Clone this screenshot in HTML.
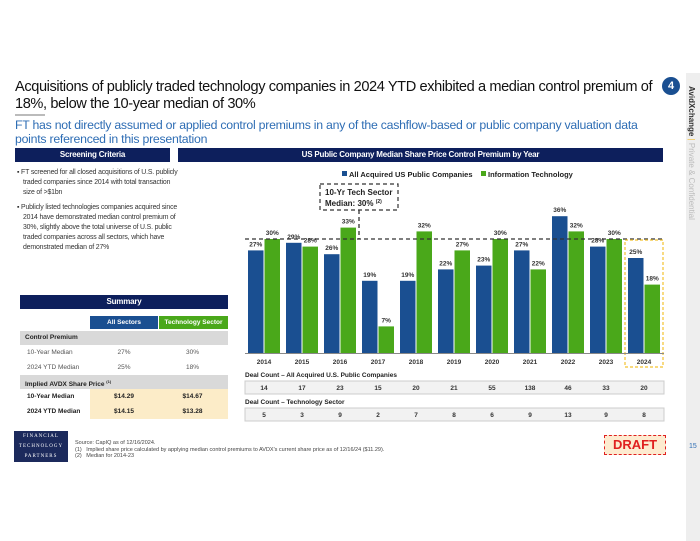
<!DOCTYPE html>
<html><head><meta charset="utf-8"><style>
*{margin:0;padding:0;box-sizing:border-box}
body{width:700px;height:541px;background:#fff;position:relative;overflow:hidden;font-family:"Liberation Sans",Arial,sans-serif;color:#222}
.abs{position:absolute}
.hdr{background:#0d1f5c;color:#fff;font-weight:bold;font-size:8px;text-align:center;line-height:14px;letter-spacing:-0.2px}
</style></head><body>
<div class="abs" style="left:15px;top:79px;white-space:nowrap;font-size:14.6px;line-height:17px;color:#111;letter-spacing:-0.4px">Acquisitions of publicly traded technology companies in 2024 YTD exhibited a median control premium of<br>18%, below the 10-year median of 30%</div>
<div class="abs" style="left:15px;top:114px;width:30px;height:2px;background:#bbb"></div>
<div class="abs" style="left:662px;top:77px;width:18px;height:18px;border-radius:50%;background:#1a4f91;color:#fff;font-weight:bold;font-size:11px;text-align:center;line-height:18px">4</div>
<div class="abs" style="left:686px;top:73px;width:14px;height:468px;background:#eee"></div>
<div class="abs" style="left:687px;top:86px;writing-mode:vertical-rl;font-size:8px;color:#bbb"><b style="color:#333">AvidXchange</b> <span style="color:#f0c040">|</span> Private &amp; Confidential</div>
<div class="abs" style="left:15px;top:118px;white-space:nowrap;font-size:12.3px;line-height:14px;color:#2e6db4;letter-spacing:-0.25px">FT has not directly assumed or applied control premiums in any of the cashflow-based or public company valuation data<br>points referenced in this presentation</div>
<div class="abs hdr" style="left:15px;top:148px;width:155px">Screening Criteria</div>
<div class="abs hdr" style="left:178px;top:148px;width:485px">US Public Company Median Share Price Control Premium by Year</div>
<div class="abs" style="left:15px;top:168px;white-space:nowrap;font-size:6.9px;line-height:10px;color:#333;letter-spacing:-0.15px">
<div style="padding-left:8px;text-indent:-6px">▪ FT screened for all closed acquisitions of U.S. publicly<br>traded companies since 2014 with total transaction<br>size of &gt;$1bn</div>
<div style="padding-left:8px;text-indent:-6px;margin-top:5px">▪ Publicly listed technologies companies acquired since<br>2014 have demonstrated median control premium of<br>30%, slightly above the total universe of U.S. public<br>traded companies across all sectors, which have<br>demonstrated median of 27%</div></div>
<div class="abs hdr" style="left:20px;top:295px;width:208px">Summary</div>
<div class="abs" style="left:20px;top:316px;width:208px;font-size:6.5px">
<div style="position:relative;height:14px"><div class="abs" style="left:70px;width:68px;height:13px;background:#1a4f91;color:#fff;font-weight:bold;text-align:center;line-height:13px">All Sectors</div><div class="abs" style="left:139px;width:69px;height:13px;background:#4aa81a;color:#fff;font-weight:bold;text-align:center;line-height:13px">Technology Sector</div></div>
<div style="background:#d9d9d9;height:14px;line-height:14px;padding-left:5px;font-weight:bold;margin-top:1px">Control Premium</div>
<div style="display:flex;height:15px;line-height:15px;color:#555"><span style="width:70px;padding-left:7px">10-Year Median</span><span style="width:68px;text-align:center">27%</span><span style="width:69px;text-align:center">30%</span></div>
<div style="display:flex;height:15px;line-height:15px;color:#555"><span style="width:70px;padding-left:7px">2024 YTD Median</span><span style="width:68px;text-align:center">25%</span><span style="width:69px;text-align:center">18%</span></div>
<div style="background:#d9d9d9;height:14px;line-height:14px;padding-left:5px;font-weight:bold">Implied AVDX Share Price <sup style="font-size:4px">(1)</sup></div>
<div style="display:flex;height:15px;line-height:15px;font-weight:bold"><span style="width:70px;padding-left:7px">10-Year Median</span><span style="width:138px;display:flex;background:#fcecc8"><span style="width:68px;text-align:center">$14.29</span><span style="width:69px;text-align:center">$14.67</span></span></div>
<div style="display:flex;height:15px;line-height:15px;font-weight:bold"><span style="width:70px;padding-left:7px">2024 YTD Median</span><span style="width:138px;display:flex;background:#fcecc8"><span style="width:68px;text-align:center">$14.15</span><span style="width:69px;text-align:center">$13.28</span></span></div>
</div>
<svg class="abs" style="left:0;top:0" width="700" height="541">
<g id="bars"></g>
<line x1="245" y1="239" x2="664" y2="239" stroke="#333" stroke-width="1.3" stroke-dasharray="4,3"/>
<line x1="359" y1="210" x2="359" y2="239" stroke="#333" stroke-width="1.3" stroke-dasharray="4,3"/>
<rect x="320" y="184" width="78" height="26" fill="#fff" stroke="#333" stroke-width="1.2" stroke-dasharray="4,3"/>
<text x="325" y="195" font-size="8" font-weight="bold" fill="#222">10-Yr Tech Sector</text>
<text x="325" y="206" font-size="8" font-weight="bold" fill="#222">Median: 30% <tspan font-size="5" dy="-3">(2)</tspan></text>
<rect x="625" y="240" width="38" height="127" fill="none" stroke="#f2c230" stroke-width="1.2" stroke-dasharray="3,2"/>
<rect x="342" y="171" width="5" height="5" fill="#1a4f91"/><text x="349" y="177" font-size="7.5" font-weight="bold" fill="#222">All Acquired US Public Companies</text>
<rect x="481" y="171" width="5" height="5" fill="#4aa81a"/><text x="488" y="177" font-size="7.5" font-weight="bold" fill="#222">Information Technology</text>
<line x1="245" y1="353.5" x2="664" y2="353.5" stroke="#888" stroke-width="1"/>
<g id="xlabels"></g>
<text x="245" y="377" font-size="6.5" font-weight="bold" fill="#222">Deal Count – All Acquired U.S. Public Companies</text>
<rect x="245" y="381" width="419" height="13" fill="#f2f2f2" stroke="#ccc"/>
<text x="245" y="404" font-size="6.5" font-weight="bold" fill="#222">Deal Count – Technology Sector</text>
<rect x="245" y="408" width="419" height="13" fill="#f2f2f2" stroke="#ccc"/>
<g id="counts"></g>
</svg>
<div class="abs" style="left:14px;top:431px;width:54px;height:31px;background:#1c2a5c;color:#fff;font-family:'Liberation Serif',serif;font-size:5px;letter-spacing:1px;text-align:center;line-height:10px;padding-top:1px">FINANCIAL<br>TECHNOLOGY<br>PARTNERS</div>
<div class="abs" style="left:75px;top:440px;font-size:5.5px;line-height:6.5px;color:#444">Source: CapIQ as of 12/16/2024.<br>(1)&nbsp;&nbsp; Implied share price calculated by applying median control premiums to AVDX's current share price as of 12/16/24 ($11.29).<br>(2)&nbsp;&nbsp; Median for 2014-23</div>
<div class="abs" style="left:604px;top:435px;width:62px;height:20px;background:#fdebd0;border:1px dashed #e02020;color:#e02020;font-weight:bold;font-size:13px;text-align:center;line-height:18px">DRAFT</div>
<div class="abs" style="left:689px;top:443px;font-size:7px;color:#2e6db4">15</div>
<script>
const years=["2014","2015","2016","2017","2018","2019","2020","2021","2022","2023","2024"];
const allVals=[27,29,26,19,19,22,23,27,36,28,25];
const techVals=[30,28,33,7,32,27,30,22,32,30,18];
const allCounts=[14,17,23,15,20,21,55,138,46,33,20];
const techCounts=[5,3,9,2,7,8,6,9,13,9,8];
const NS="http://www.w3.org/2000/svg";
const x0=264,pitch=38,base=353,k=3.8;
function xc(i){return x0+i*pitch;}
function yv(v){return base-v*k;}
function mk(t,a){const e=document.createElementNS(NS,t);for(const n in a)e.setAttribute(n,a[n]);return e;}
const gb=document.getElementById('bars'),gx=document.getElementById('xlabels'),gc=document.getElementById('counts');
years.forEach((y,i)=>{
 [[allVals[i],-16,'#1a4f91','bar-all-'],[techVals[i],0.5,'#4aa81a','bar-tech-']].forEach(([v,off,c,nm])=>{
  const r=mk('rect',{x:xc(i)+off,y:yv(v),width:15.5,height:v*k,fill:c});
  
  
  gb.appendChild(r);
  const t=mk('text',{x:xc(i)+off+7.75,y:yv(v)-4,'font-size':6.5,'font-weight':'bold','text-anchor':'middle',fill:'#333'});
  t.textContent=v+'%';
  
  
  gb.appendChild(t);
 });
 const l=mk('text',{x:xc(i),y:364,'font-size':6.5,'font-weight':'bold','text-anchor':'middle',fill:'#333'});
 l.textContent=y;
 
 
 gx.appendChild(l);
 const a=mk('text',{x:xc(i),y:390,'font-size':6.5,'font-weight':'bold','text-anchor':'middle',fill:'#333'});
 a.textContent=allCounts[i];
 
 
 gc.appendChild(a);
 const b=mk('text',{x:xc(i),y:417,'font-size':6.5,'font-weight':'bold','text-anchor':'middle',fill:'#333'});
 b.textContent=techCounts[i];
 
 
 gc.appendChild(b);
});
</script>
</body></html>
